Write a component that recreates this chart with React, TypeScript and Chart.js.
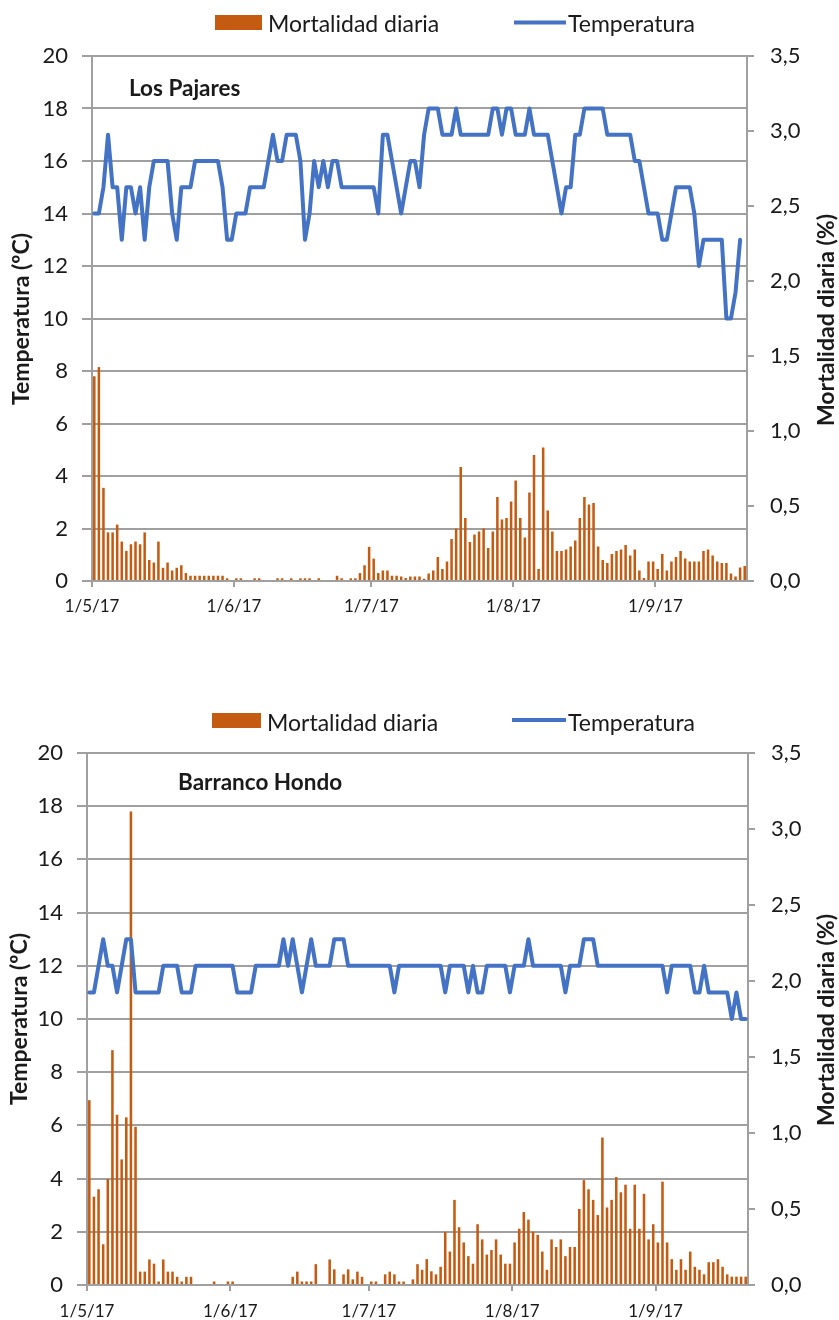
import React, { useEffect, useRef } from "react";
import { Chart, registerables } from "chart.js";

Chart.register(...registerables);

// ---------- data ----------
const DAY_COUNT = 143; // 1/5/17 .. 20/9/17
const MONTH_TICK_DAYS = [0, 31, 61, 92, 123];
const MONTH_TICK_LABELS = ["1/5/17", "1/6/17", "1/7/17", "1/8/17", "1/9/17"];

const SERIES_LABELS = ["Mortalidad diaria", "Temperatura"];

// Los Pajares – temperature (ºC), one value per day
const LP_TEMP = [
  14, 14, 15, 17, 15, 15, 13, 15, 15, 14,
  15, 13, 15, 16, 16, 16, 16, 14, 13, 15,
  15, 15, 16, 16, 16, 16, 16, 16, 15, 13,
  13, 14, 14, 14, 15, 15, 15, 15, 16, 17,
  16, 16, 17, 17, 17, 16, 13, 14, 16, 15,
  16, 15, 16, 16, 15, 15, 15, 15, 15, 15,
  15, 15, 14, 17, 17, 16, 15, 14, 15, 16,
  16, 15, 17, 18, 18, 18, 17, 17, 17, 18,
  17, 17, 17, 17, 17, 17, 17, 18, 18, 17,
  18, 18, 17, 17, 17, 18, 17, 17, 17, 17,
  16, 15, 14, 15, 15, 17, 17, 18, 18, 18,
  18, 18, 17, 17, 17, 17, 17, 17, 16, 16,
  15, 14, 14, 14, 13, 13, 14, 15, 15, 15,
  15, 14, 12, 13, 13, 13, 13, 13, 10, 10,
  11, 13, null,
];

// Los Pajares – daily mortality (%)
const LP_MORT = [
  1.365, 1.426, 0.621, 0.324, 0.324, 0.376, 0.263, 0.201, 0.245, 0.263,
  0.245, 0.324, 0.14, 0.123, 0.263, 0.088, 0.123, 0.07, 0.088, 0.105,
  0.053, 0.035, 0.035, 0.035, 0.035, 0.035, 0.035, 0.035, 0.035, 0.018,
  0, 0.018, 0.018, 0, 0, 0.018, 0.018, 0, 0, 0,
  0.018, 0.018, 0, 0.018, 0, 0.018, 0.018, 0.018, 0, 0.018,
  0, 0, 0, 0.035, 0.018, 0, 0.018, 0.018, 0.053, 0.105,
  0.228, 0.149, 0.053, 0.07, 0.07, 0.035, 0.035, 0.03, 0.02, 0.03,
  0.03, 0.03, 0.015, 0.05, 0.07, 0.16, 0.08, 0.13, 0.28, 0.35,
  0.76, 0.42, 0.26, 0.31, 0.33, 0.35, 0.22, 0.33, 0.56, 0.41,
  0.42, 0.53, 0.67, 0.42, 0.29, 0.59, 0.84, 0.08, 0.89, 0.47,
  0.33, 0.2, 0.2, 0.21, 0.23, 0.27, 0.42, 0.56, 0.51, 0.52,
  0.23, 0.14, 0.12, 0.18, 0.2, 0.21, 0.24, 0.17, 0.21, 0.07,
  0.02, 0.13, 0.13, 0.08, 0.18, 0.07, 0.13, 0.16, 0.2, 0.15,
  0.13, 0.13, 0.13, 0.2, 0.21, 0.17, 0.13, 0.12, 0.12, 0.05,
  0.03, 0.09, 0.1,
];

// Barranco Hondo – temperature (ºC)
const BH_TEMP = [
  11, 11, 12, 13, 12, 12, 11, 12, 13, 13,
  11, 11, 11, 11, 11, 11, 12, 12, 12, 12,
  11, 11, 11, 12, 12, 12, 12, 12, 12, 12,
  12, 12, 11, 11, 11, 11, 12, 12, 12, 12,
  12, 12, 13, 12, 13, 12, 11, 12, 13, 12,
  12, 12, 12, 13, 13, 13, 12, 12, 12, 12,
  12, 12, 12, 12, 12, 12, 11, 12, 12, 12,
  12, 12, 12, 12, 12, 12, 12, 11, 12, 12,
  12, 12, 11, 12, 11, 11, 12, 12, 12, 12,
  12, 11, 12, 12, 12, 13, 12, 12, 12, 12,
  12, 12, 12, 11, 12, 12, 12, 13, 13, 13,
  12, 12, 12, 12, 12, 12, 12, 12, 12, 12,
  12, 12, 12, 12, 12, 11, 12, 12, 12, 12,
  12, 11, 11, 12, 11, 11, 11, 11, 11, 10,
  11, 10, 10,
];

// Barranco Hondo – daily mortality (%)
const BH_MORT = [
  1.216, 0.581, 0.63, 0.268, 0.697, 1.545, 1.12, 0.826, 1.103, 3.115,
  1.041, 0.088, 0.088, 0.168, 0.14, 0.023, 0.168, 0.088, 0.088, 0.054,
  0.023, 0.054, 0.054, 0, 0, 0, 0, 0.023, 0, 0,
  0.023, 0.023, 0, 0, 0, 0, 0, 0, 0, 0,
  0, 0, 0, 0, 0.054, 0.088, 0.023, 0.023, 0.023, 0.137,
  0, 0, 0.168, 0.103, 0, 0.07, 0.103, 0.037, 0.088, 0.054,
  0, 0.023, 0.023, 0, 0.07, 0.088, 0.07, 0.023, 0.023, 0,
  0.037, 0.137, 0.1, 0.17, 0.09, 0.07, 0.12, 0.35, 0.22, 0.56,
  0.38, 0.28, 0.19, 0.14, 0.4, 0.3, 0.2, 0.23, 0.3, 0.2,
  0.14, 0.14, 0.28, 0.37, 0.48, 0.43, 0.35, 0.33, 0.22, 0.1,
  0.3, 0.25, 0.3, 0.19, 0.25, 0.25, 0.5, 0.69, 0.63, 0.56,
  0.46, 0.97, 0.51, 0.56, 0.71, 0.61, 0.66, 0.37, 0.66, 0.37,
  0.6, 0.3, 0.4, 0.28, 0.68, 0.28, 0.17, 0.1, 0.17, 0.1,
  0.22, 0.12, 0.1, 0.07, 0.15, 0.15, 0.17, 0.12, 0.07, 0.055,
  0.055, 0.055, 0.055,
];

// ---------- styles ----------
const FONT = "Lato";
const BAR_COLOR = "#C55A11";
const LINE_COLOR = "#4472C4";
const GRID_COLOR = "#A0A0A0";
const TEXT_COLOR = "#1a1a1a";
const CANVAS_W = 839;
const CANVAS_H = 660;

type Deco = {
  station: string;
  stationPos: [number, number];
  swatch: [number, number, number, number];
  text1: [number, number];
  legendLine: [number, number, number];
  text2: [number, number];
  leftTitle: [number, number];
  rightTitle: [number, number];
};

type PanelCfg = {
  top: number;
  temp: (number | null)[];
  mort: number[];
  padTop: number;
  leftW: number;
  rightW: number;
  xH: number;
  xPad: number;
  deco: Deco;
};

const decoPlugin = {
  id: "deco",
  afterDraw(chart: any, _args: any, opts: any) {
    const d: Deco = opts.deco;
    if (!d) return;
    const ctx = chart.ctx as CanvasRenderingContext2D;
    const ds = chart.data.datasets;
    ctx.save();
    // legend
    ctx.fillStyle = BAR_COLOR;
    ctx.fillRect(d.swatch[0], d.swatch[1], d.swatch[2], d.swatch[3]);
    ctx.strokeStyle = LINE_COLOR;
    ctx.lineWidth = 4;
    ctx.beginPath();
    ctx.moveTo(d.legendLine[0], d.legendLine[2]);
    ctx.lineTo(d.legendLine[1], d.legendLine[2]);
    ctx.stroke();
    ctx.fillStyle = TEXT_COLOR;
    ctx.textAlign = "left";
    ctx.textBaseline = "alphabetic";
    ctx.font = `23px ${FONT}`;
    ctx.fillText(ds[1].label, d.text1[0], d.text1[1]);
    ctx.fillText(ds[0].label, d.text2[0], d.text2[1]);
    // station name
    ctx.font = `bold 22.5px ${FONT}`;
    ctx.fillText(d.station, d.stationPos[0], d.stationPos[1]);
    // axis titles
    ctx.font = `bold 23px ${FONT}`;
    ctx.textAlign = "center";
    ctx.textBaseline = "middle";
    ctx.save();
    ctx.translate(d.leftTitle[0], d.leftTitle[1]);
    ctx.rotate(-Math.PI / 2);
    ctx.fillText("Temperatura (ºC)", 0, 0);
    ctx.restore();
    ctx.save();
    ctx.translate(d.rightTitle[0], d.rightTitle[1]);
    ctx.rotate(-Math.PI / 2);
    ctx.fillText("Mortalidad diaria (%)", 0, 0);
    ctx.restore();
    ctx.restore();
  },
};

function buildConfig(cfg: PanelCfg): any {
  const lineData = cfg.temp.map((v, i) => ({ x: i + 0.5, y: v }));
  const barData = cfg.mort.map((v, i) => ({ x: i + 0.5, y: v }));
  const tickFont = { family: FONT, size: 22 };
  return {
    type: "bar",
    data: {
      datasets: [
        {
          type: "line",
          label: SERIES_LABELS[1],
          data: lineData,
          yAxisID: "y",
          borderColor: LINE_COLOR,
          backgroundColor: LINE_COLOR,
          borderWidth: 4,
          pointRadius: 0,
          tension: 0,
          borderJoinStyle: "round",
          borderCapStyle: "round",
          order: 0,
        },
        {
          type: "bar",
          label: SERIES_LABELS[0],
          data: barData,
          yAxisID: "y1",
          backgroundColor: BAR_COLOR,
          borderWidth: 0,
          barPercentage: 0.55,
          categoryPercentage: 1,
          order: 1,
        },
      ],
    },
    options: {
      responsive: false,
      animation: false,
      devicePixelRatio: 1,
      layout: { padding: { top: cfg.padTop, left: 0, right: 0, bottom: 0 } },
      plugins: {
        legend: { display: false },
        tooltip: { enabled: false },
        deco: { deco: cfg.deco },
      },
      scales: {
        x: {
          type: "linear",
          min: 0,
          max: DAY_COUNT,
          offset: false,
          afterBuildTicks: (s: any) => {
            s.ticks = MONTH_TICK_DAYS.map((v) => ({ value: v }));
          },
          afterFit: (s: any) => {
            s.height = cfg.xH;
          },
          ticks: {
            autoSkip: false,
            maxRotation: 0,
            minRotation: 0,
            padding: cfg.xPad,
            color: TEXT_COLOR,
            font: { family: FONT, size: 17 },
            callback: (v: number) => {
              const k = MONTH_TICK_DAYS.indexOf(v);
              return k >= 0 ? MONTH_TICK_LABELS[k] : "";
            },
          },
          grid: {
            offset: false,
            drawOnChartArea: false,
            drawTicks: true,
            tickLength: 6,
            color: GRID_COLOR,
            lineWidth: 2,
          },
          border: { display: true, color: GRID_COLOR, width: 2 },
        },
        y: {
          position: "left",
          min: 0,
          max: 20,
          afterFit: (s: any) => {
            s.width = cfg.leftW;
          },
          ticks: { stepSize: 2, padding: 14, color: TEXT_COLOR, font: tickFont },
          grid: { color: GRID_COLOR, lineWidth: 2, tickLength: 10 },
          border: { display: true, color: GRID_COLOR, width: 2 },
        },
        y1: {
          position: "right",
          min: 0,
          max: 3.5,
          afterFit: (s: any) => {
            s.width = cfg.rightW;
          },
          ticks: {
            stepSize: 0.5,
            padding: 16,
            color: TEXT_COLOR,
            font: tickFont,
            callback: (v: number) => v.toFixed(1).replace(".", ","),
          },
          grid: {
            drawOnChartArea: false,
            color: GRID_COLOR,
            lineWidth: 2,
            tickLength: 7,
          },
          border: { display: true, color: GRID_COLOR, width: 2 },
        },
      },
    },
    plugins: [decoPlugin],
  };
}

const PANELS: PanelCfg[] = [
  {
    top: 0,
    temp: LP_TEMP,
    mort: LP_MORT,
    padTop: 56,
    leftW: 92,
    rightW: 92,
    xH: 79,
    xPad: 9,
    deco: {
      station: "Los Pajares",
      stationPos: [129, 96],
      swatch: [215, 15, 47, 15],
      text1: [268, 31.5],
      legendLine: [514, 566, 22.5],
      text2: [568, 31.5],
      leftTitle: [22, 319],
      rightTitle: [827, 320],
    },
  },
  {
    top: 660,
    temp: BH_TEMP,
    mort: BH_MORT,
    padTop: 93,
    leftW: 87,
    rightW: 91,
    xH: 35,
    xPad: 10,
    deco: {
      station: "Barranco Hondo",
      stationPos: [178, 130],
      swatch: [212, 53, 49, 15],
      text1: [267, 70.5],
      legendLine: [512, 566, 60],
      text2: [568, 70.5],
      leftTitle: [20, 359],
      rightTitle: [827, 360],
    },
  },
];

function Panel({ cfg }: { cfg: PanelCfg }) {
  const ref = useRef<HTMLCanvasElement>(null);
  useEffect(() => {
    if (!ref.current) return;
    const chart = new Chart(ref.current, buildConfig(cfg));
    return () => chart.destroy();
  }, [cfg]);
  return (
    <div
      style={{
        position: "absolute",
        left: 0,
        top: cfg.top,
        width: CANVAS_W,
        height: CANVAS_H,
      }}
    >
      <canvas
        ref={ref}
        width={CANVAS_W}
        height={CANVAS_H}
        style={{ width: CANVAS_W, height: CANVAS_H, display: "block" }}
      />
    </div>
  );
}

export default function App() {
  return (
    <div>
      {PANELS.map((p, i) => (
        <Panel key={i} cfg={p} />
      ))}
    </div>
  );
}
